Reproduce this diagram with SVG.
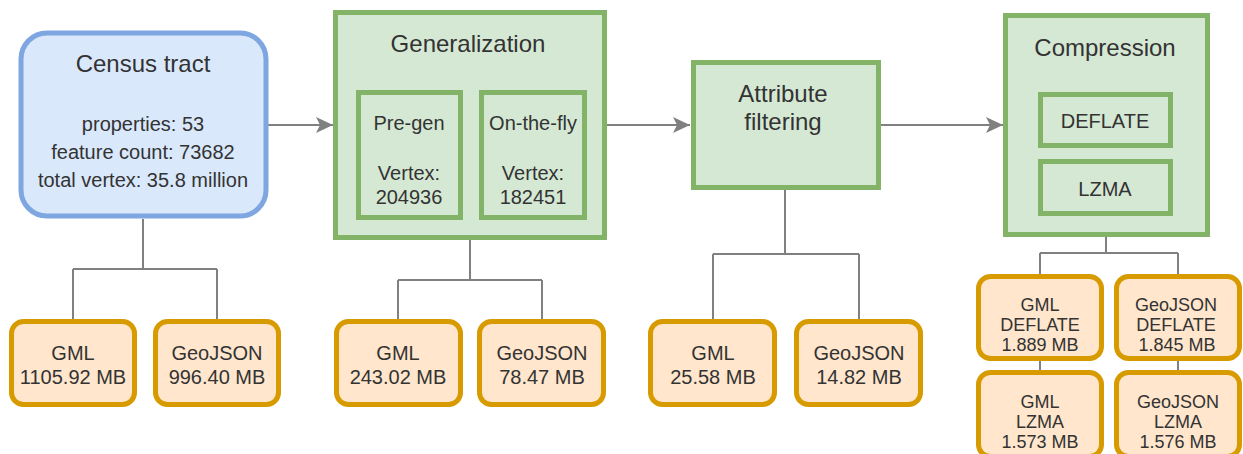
<svg xmlns="http://www.w3.org/2000/svg" width="1243" height="454" viewBox="0 0 1243 454">
  <style>
    text { font-family: "Liberation Sans", Arial, sans-serif; fill: #333333; text-anchor: middle; }
    .t24 { font-size: 24px; }
    .t20 { font-size: 20px; }
    .t18 { font-size: 18px; }
    .source { fill: #dae8fc; stroke: #7ea6e0; stroke-width: 5; }
    .step { fill: #d5e8d4; stroke: #82b366; stroke-width: 5; }
    .out { fill: #ffe6cc; stroke: #d79b00; stroke-width: 5; }
    .link { fill: none; stroke: #808080; stroke-width: 2; }
  </style>
  <defs>
    <marker id="arrow" markerUnits="userSpaceOnUse" markerWidth="18" markerHeight="16" refX="17" refY="8" orient="auto">
      <path d="M0,0 L17,8 L0,16 L4,8 Z" fill="#808080"/>
    </marker>
  </defs>

  <rect width="1243" height="454" fill="#ffffff"/>

  <!-- connectors -->
  <g id="connectors">
    <line class="link" x1="268" y1="125" x2="333" y2="125" marker-end="url(#arrow)"/>
    <line class="link" x1="607" y1="125" x2="690" y2="125" marker-end="url(#arrow)"/>
    <line class="link" x1="881" y1="125" x2="1003" y2="125" marker-end="url(#arrow)"/>

    <path class="link" d="M143,219 V269 M73,269 H217 M73,269 V319 M217,269 V319"/>
    <path class="link" d="M470,240 V280 M398,280 H542 M398,280 V319 M542,280 V319"/>
    <path class="link" d="M785,190 V254 M713,254 H859 M713,254 V319 M859,254 V319"/>
    <path class="link" d="M1106,237 V253 M1040,253 H1178 M1040,253 V274 M1178,253 V274 M1040,361 V370 M1178,361 V370"/>
  </g>

  <!-- source data -->
  <g id="census-tract">
    <rect class="source" x="21" y="33" width="245" height="183" rx="26"/>
    <text class="t24" x="143" y="72">Census tract</text>
    <text class="t20" x="143" y="131">properties: 53</text>
    <text class="t20" x="143" y="159">feature count: 73682</text>
    <text class="t20" x="143" y="187">total vertex: 35.8 million</text>
  </g>

  <!-- processing steps -->
  <g id="generalization">
    <rect class="step" x="335.5" y="12.5" width="269" height="225"/>
    <text class="t24" x="468" y="52">Generalization</text>
  </g>
  <g id="pre-gen">
    <rect class="step" x="358.5" y="92.5" width="102" height="125"/>
    <text class="t20" x="409" y="130">Pre-gen</text>
    <text class="t20" x="409" y="180">Vertex:</text>
    <text class="t20" x="409" y="204">204936</text>
  </g>
  <g id="on-the-fly">
    <rect class="step" x="481.5" y="92.5" width="103" height="125"/>
    <text class="t20" x="533" y="130">On-the-fly</text>
    <text class="t20" x="533" y="180">Vertex:</text>
    <text class="t20" x="533" y="204">182451</text>
  </g>

  <g id="attribute-filtering">
    <rect class="step" x="693.5" y="62.5" width="185" height="125"/>
    <text class="t24" x="783" y="102">Attribute</text>
    <text class="t24" x="783" y="130">filtering</text>
  </g>

  <g id="compression">
    <rect class="step" x="1005.5" y="15.5" width="202" height="219"/>
    <text class="t24" x="1105" y="56">Compression</text>
  </g>
  <g id="deflate">
    <rect class="step" x="1040.5" y="94.5" width="130" height="51"/>
    <text class="t20" x="1105" y="128">DEFLATE</text>
  </g>
  <g id="lzma">
    <rect class="step" x="1040.5" y="161.5" width="130" height="52"/>
    <text class="t20" x="1105" y="196">LZMA</text>
  </g>

  <!-- output files -->
  <g id="out-census-gml">
    <rect class="out" x="11.5" y="321.5" width="123" height="83" rx="12"/>
    <text class="t20" x="73" y="360">GML</text>
    <text class="t20" x="73" y="384">1105.92 MB</text>
  </g>
  <g id="out-census-geojson">
    <rect class="out" x="155.5" y="321.5" width="123" height="83" rx="12"/>
    <text class="t20" x="217" y="360">GeoJSON</text>
    <text class="t20" x="217" y="384">996.40 MB</text>
  </g>

  <g id="out-gen-gml">
    <rect class="out" x="336.5" y="321.5" width="124" height="83" rx="12"/>
    <text class="t20" x="398" y="360">GML</text>
    <text class="t20" x="398" y="384">243.02 MB</text>
  </g>
  <g id="out-gen-geojson">
    <rect class="out" x="479.5" y="321.5" width="124" height="83" rx="12"/>
    <text class="t20" x="542" y="360">GeoJSON</text>
    <text class="t20" x="542" y="384">78.47 MB</text>
  </g>

  <g id="out-attr-gml">
    <rect class="out" x="650.5" y="321.5" width="124" height="83" rx="12"/>
    <text class="t20" x="713" y="360">GML</text>
    <text class="t20" x="713" y="384">25.58 MB</text>
  </g>
  <g id="out-attr-geojson">
    <rect class="out" x="796.5" y="321.5" width="124" height="83" rx="12"/>
    <text class="t20" x="859" y="360">GeoJSON</text>
    <text class="t20" x="859" y="384">14.82 MB</text>
  </g>

  <g id="out-gml-deflate">
    <rect class="out" x="978.5" y="276.5" width="123" height="82" rx="12"/>
    <text class="t18" x="1040" y="311">GML</text>
    <text class="t18" x="1040" y="331">DEFLATE</text>
    <text class="t18" x="1040" y="351">1.889 MB</text>
  </g>
  <g id="out-geojson-deflate">
    <rect class="out" x="1116.5" y="276.5" width="123" height="82" rx="12"/>
    <text class="t18" x="1176" y="311">GeoJSON</text>
    <text class="t18" x="1176" y="331">DEFLATE</text>
    <text class="t18" x="1177" y="351">1.845 MB</text>
  </g>
  <g id="out-gml-lzma">
    <rect class="out" x="978.5" y="372.5" width="123" height="84" rx="12"/>
    <text class="t18" x="1040" y="408">GML</text>
    <text class="t18" x="1040" y="428">LZMA</text>
    <text class="t18" x="1040" y="448">1.573 MB</text>
  </g>
  <g id="out-geojson-lzma">
    <rect class="out" x="1116.5" y="372.5" width="123" height="84" rx="12"/>
    <text class="t18" x="1178" y="408">GeoJSON</text>
    <text class="t18" x="1178" y="428">LZMA</text>
    <text class="t18" x="1178" y="448">1.576 MB</text>
  </g>
</svg>
